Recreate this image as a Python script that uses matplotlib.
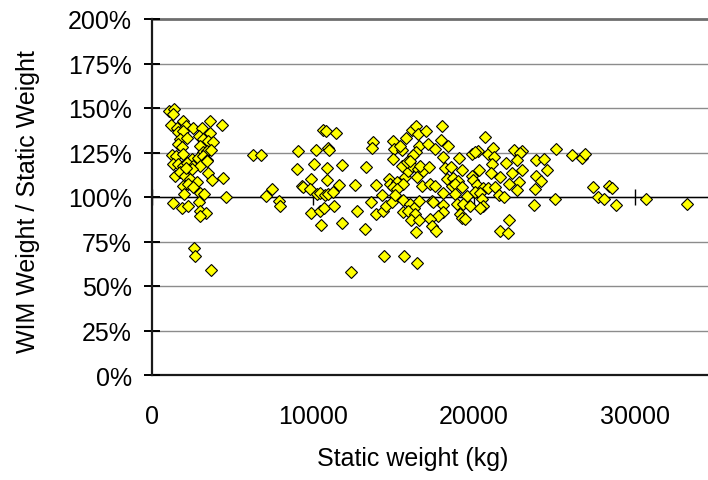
import matplotlib
matplotlib.use("Agg")
import matplotlib.pyplot as plt
from matplotlib.ticker import FuncFormatter

plt.rcParams['font.family'] = ['Liberation Sans', 'DejaVu Sans']

# Static weight (kg)
static_kg = [
    # light vehicles cluster
    1076, 1366, 1284, 1160, 1905, 1532, 2112, 2526, 3085, 3602, 4327, 3602, 1635, 1946,
    1739, 2195, 1635, 2940, 3188, 3499, 3768, 1222, 1491, 1843, 1946, 2464, 2981, 3147,
    3396, 3644, 2878, 3188, 3437, 1284, 1635, 1946, 2153, 2567, 2981, 3396, 1429, 1739,
    2050, 2360, 2774, 2464, 2112, 3499, 3706, 4389, 1946, 2257, 2567, 1988, 2981, 3230,
    1284, 1843, 2257, 2940, 2981, 3354, 2981, 4575, 2609, 2692, 3644, 6294, 6791, 7081,
    7453, 7908, 7950,
    # 9000 - 17000 kg
    10642, 10807, 11428, 9068, 10165, 10952, 11014, 13747, 13664, 14948, 15776, 15031,
    15507, 16128, 16397, 16542, 16604, 16397, 16231, 8985, 10062, 10849, 11821,
    13292, 14989, 15403, 9855, 10849, 11635, 12608, 13892, 9296, 9399, 9813, 10228, 10434,
    10745, 10952, 11263, 14699, 14782, 15196, 15714, 15921, 16128, 16542, 16852, 15507,
    15817, 16024, 16439, 16749, 15610, 14989, 15196, 9875, 10434, 10683, 11325, 12712,
    13602, 13913, 14264, 14368, 14534, 14886, 15093, 15610, 16024, 16273, 16604, 15569,
    15921, 16335, 16066, 16604, 10496, 11821, 13229, 16377, 14409, 15652, 16480, 12360,
    # 17000 - 25000 kg
    17018, 17991, 17929, 17163, 17577, 18405, 20683, 18053, 19088, 19855, 20268, 20062,
    20889, 21159, 21242, 22484, 22960, 22857, 25092, 21987, 22650, 23850, 24347, 21097,
    16645, 17225, 18198, 18550, 19234, 20330, 21035, 21614, 22339, 22960, 23850, 24140,
    24513, 22815, 22194, 23788, 22691, 18302, 18716, 19026, 18613, 18819, 19234, 19855,
    19958, 20165, 20579, 20889, 21304, 17267, 17577, 18095, 18819, 19544, 20062, 20372,
    17370, 17474, 18923, 19337, 19751, 20476, 20579, 20372, 21573, 21863, 23726, 25030,
    18053, 18095, 17784, 17267, 19130, 19234, 19440, 17370, 17639, 22194, 21614, 22132,
    # heavy vehicles
    26086, 26689, 26912, 27372, 28366, 28571, 27701, 28074, 28800, 30663, 33248,
]

# WIM weight / static weight (%)
wim_ratio_pct = [
    148.1, 149.4, 146.6, 140.6, 142.5, 138.6, 139.7, 138.9, 138.9, 142.5, 140.4, 136.0, 136.3, 137.3,
    132.6, 133.0, 129.8, 134.5, 132.6, 131.6, 131.1, 123.6, 122.8, 127.9, 124.2, 121.3, 128.8, 125.5,
    126.0, 126.6, 121.7, 122.8, 121.0, 118.5, 118.5, 117.6, 119.1, 117.6, 117.2, 120.4, 112.0, 113.9,
    112.0, 110.1, 108.2, 115.7, 116.1, 113.5, 109.7, 110.5, 106.0, 107.3, 105.4, 101.7, 102.2, 101.9,
    96.6, 93.6, 94.8, 97.4, 92.3, 90.8, 89.1, 100.2, 71.2, 66.7, 59.0, 123.8, 123.6, 100.7,
    104.5, 97.6, 95.1,
    137.8, 137.1, 136.0, 126.0, 126.4, 127.5, 126.6, 131.1, 127.3, 131.6, 133.0, 127.0,
    126.6, 137.8, 139.7, 135.4, 128.5, 125.1, 123.6, 115.7, 118.5, 116.1, 117.8,
    116.9, 121.3, 128.8, 110.1, 109.7, 106.9, 106.9, 106.9, 106.4, 105.4, 104.5, 101.7, 102.2,
    101.1, 101.5, 103.0, 110.1, 107.3, 108.2, 111.0, 114.8, 117.6, 115.7, 114.8, 117.6,
    119.5, 120.4, 111.0, 106.4, 107.3, 105.4, 104.5, 91.0, 92.3, 93.6, 94.9, 92.3,
    97.4, 90.3, 101.1, 92.3, 95.1, 97.4, 101.1, 98.5, 96.1, 93.6, 97.9, 91.4,
    92.3, 90.4, 87.3, 87.3, 84.3, 85.4, 82.0, 80.1, 66.7, 66.7, 62.9, 57.7,
    137.3, 139.7, 132.2, 129.8, 127.0, 128.8, 133.7, 122.3, 121.7, 124.2, 126.0, 125.1,
    124.2, 127.5, 122.3, 126.4, 126.0, 124.7, 127.0, 119.1, 121.0, 121.0, 121.3, 118.5,
    117.6, 116.7, 116.1, 116.7, 115.4, 115.4, 113.5, 111.0, 113.5, 115.4, 111.6, 109.2,
    115.4, 108.6, 107.1, 104.5, 104.1, 110.1, 110.5, 109.2, 106.4, 107.3, 105.4, 111.6,
    109.7, 106.7, 104.9, 104.9, 105.4, 107.3, 106.0, 102.2, 101.7, 100.7, 103.0, 102.2,
    97.9, 97.0, 96.1, 96.1, 95.1, 98.9, 94.8, 93.6, 101.1, 99.8, 95.5, 98.9,
    95.5, 91.4, 89.5, 87.6, 90.4, 88.0, 87.6, 83.5, 81.1, 87.3, 80.7, 79.6,
    123.8, 121.7, 124.0, 105.8, 106.3, 104.9, 99.8, 98.9, 95.5, 98.7, 96.2,
]

x_ticks = [0, 10000, 20000, 30000]
y_ticks = [0, 25, 50, 75, 100, 125, 150, 175, 200]
x_label = "Static weight (kg)"
y_label = "WIM Weight / Static Weight"

W, H = 708, 481
fig = plt.figure(figsize=(W / 100, H / 100), dpi=100)
left_px, right_px, top_px, bottom_px = 152, 708, 20, 376
ax = fig.add_axes([left_px / W, 1 - bottom_px / H, (right_px - left_px) / W, (bottom_px - top_px) / H])

ax.set_xlim(0, 34533)
ax.set_ylim(0, 200)

# grid lines
for yv in y_ticks[1:-1]:
    ax.axhline(yv, color='#8c8c8c', lw=1.0, zorder=1)
ax.axhline(200, color='#6e6e6e', lw=2.0, zorder=1, clip_on=False)

# 100% reference axis
ax.spines['bottom'].set_position(('data', 100))
ax.spines['bottom'].set_linewidth(1.0)
ax.spines['bottom'].set_color('black')
ax.spines['bottom'].set_zorder(2)
ax.set_xticks(x_ticks)
ax.tick_params(axis='x', direction='inout', length=11.5, width=1.0, labelbottom=False, color='black')

ax.spines['top'].set_visible(False)
ax.spines['right'].set_visible(False)
ax.spines['left'].set_linewidth(1.6)
ax.spines['left'].set_color('#1a1a1a')

ax.set_yticks(y_ticks)
ax.yaxis.set_major_formatter(FuncFormatter(lambda v, p: f"{int(v)}%"))
ax.tick_params(axis='y', direction='inout', length=11, width=1.4, labelsize=18, pad=9)

sec = ax.secondary_xaxis('bottom')
sec.set_xticks(x_ticks)
sec.set_xticklabels([str(v) for v in x_ticks])
sec.tick_params(length=0, labelsize=18, pad=21)
sec.spines['bottom'].set_linewidth(1.6)
sec.spines['bottom'].set_color('#1a1a1a')

ax.plot(static_kg, wim_ratio_pct, linestyle='none', marker='D', markersize=6.0,
        markerfacecolor='#ffff00', markeredgecolor='black', markeredgewidth=0.8,
        zorder=3, clip_on=False)

fig.text(413 / W, 1 - 459 / H, x_label, fontsize=18, ha='center', va='center')
fig.text(28 / W, 1 - 202 / H, y_label, fontsize=18, ha='center', va='center', rotation=90)

fig.savefig("out.png", dpi=100)
